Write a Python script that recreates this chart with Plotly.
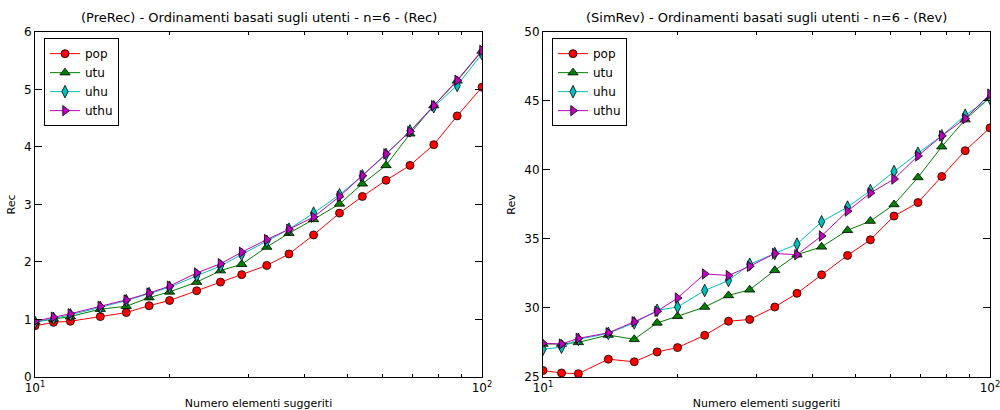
import plotly.graph_objects as go

# Number of suggested items (log scale on x)
n_items = [10, 11, 12, 14, 16, 18, 20, 23, 26, 29, 33, 37, 42, 48, 54, 61, 69, 78, 88, 100]

# (PreRec) - Rec
rec_pop = [0.89, 0.95, 0.97, 1.05, 1.12, 1.24, 1.33, 1.50, 1.65, 1.78, 1.94, 2.14, 2.47, 2.85, 3.14, 3.42, 3.68, 4.04, 4.54, 5.04]
rec_utu = [0.96, 1.01, 1.05, 1.18, 1.23, 1.38, 1.48, 1.65, 1.85, 1.96, 2.26, 2.50, 2.74, 3.01, 3.36, 3.68, 4.23, 4.72, 5.15, 5.67]
rec_uhu = [0.95, 1.02, 1.08, 1.21, 1.33, 1.45, 1.56, 1.76, 1.93, 2.13, 2.36, 2.57, 2.85, 3.17, 3.50, 3.87, 4.28, 4.70, 5.07, 5.62]
rec_uthu = [0.97, 1.04, 1.10, 1.23, 1.34, 1.46, 1.58, 1.81, 1.97, 2.17, 2.39, 2.57, 2.78, 3.14, 3.50, 3.88, 4.27, 4.72, 5.16, 5.68]

# (SimRev) - Rev
rev_pop = [25.47, 25.29, 25.24, 26.29, 26.10, 26.82, 27.13, 28.02, 29.04, 29.17, 30.07, 31.06, 32.40, 33.81, 34.94, 36.66, 37.64, 39.53, 41.40, 43.05]
rev_utu = [27.39, 27.39, 27.51, 28.04, 27.73, 28.92, 29.40, 30.07, 30.91, 31.32, 32.73, 33.86, 34.43, 35.63, 36.30, 37.50, 39.46, 41.69, 43.65, 45.25]
rev_uhu = [27.01, 27.16, 27.73, 28.16, 28.92, 29.83, 30.07, 31.27, 31.99, 33.17, 33.95, 34.63, 36.25, 37.31, 38.51, 39.89, 41.21, 42.48, 43.97, 45.20]
rev_uthu = [27.44, 27.39, 27.80, 28.20, 29.00, 29.76, 30.72, 32.47, 32.35, 33.02, 33.95, 33.86, 35.22, 37.02, 38.33, 39.34, 41.02, 42.48, 43.72, 45.50]

series_names = ["pop", "utu", "uhu", "uthu"]
colors = ["#ff0000", "#008000", "#00bfbf", "#bf00bf"]
symbols = ["circle", "triangle-up", "diamond-tall", "triangle-right"]
sizes = [8, 9, 9, 9]

titles = [
    "(PreRec) - Ordinamenti basati sugli utenti - n=6 - (Rec)",
    "(SimRev) - Ordinamenti basati sugli utenti - n=6 - (Rev)",
]
y_titles = ["Rec", "Rev"]
x_title = "Numero elementi suggeriti"
x_tickvals = [10, 100]
x_ticktext = ["10<sup>1</sup>", "10<sup>2</sup>"]
x_minor = [20, 30, 40, 50, 60, 70, 80, 90]
y_ticks = [[0, 1, 2, 3, 4, 5, 6], [25, 30, 35, 40, 45, 50]]
y_ranges = [[0, 6], [25, 50]]

FONT = "DejaVu Sans"
fig = go.Figure()

panels = [
    (rec_pop, rec_utu, rec_uhu, rec_uthu),
    (rev_pop, rev_utu, rev_uhu, rev_uthu),
]
x_domains = [[0.035, 0.482], [0.543, 0.990]]
y_domain = [0.0805, 0.922]

for p, data in enumerate(panels):
    xa = "x" if p == 0 else "x2"
    ya = "y" if p == 0 else "y2"
    for i, vals in enumerate(data):
        fig.add_trace(go.Scatter(
            x=n_items, y=vals, name=series_names[i], xaxis=xa, yaxis=ya,
            mode="lines+markers",
            line=dict(color=colors[i], width=1),
            marker=dict(symbol=symbols[i], size=sizes[i], color=colors[i],
                        line=dict(color="black", width=0.8)),
            legend="legend" if p == 0 else "legend2",
        ))

axis_common = dict(
    showline=True, linecolor="black", linewidth=1, mirror="ticks",
    ticks="inside", ticklen=4, tickcolor="black", showgrid=False, zeroline=False,
    automargin=False, ticklabeloverflow="allow",
    tickfont=dict(family=FONT, size=12, color="black"),
)

for p in range(2):
    sx = "" if p == 0 else "2"
    fig.update_layout(**{
        "xaxis" + sx: dict(
            axis_common, type="log", range=[1, 2], domain=x_domains[p],
            anchor="y" + sx, tickmode="array", tickvals=x_tickvals, ticktext=x_ticktext,
            ticklen=7,
            minor=dict(tickmode="array", tickvals=x_minor, ticks="inside", ticklen=3,
                       tickcolor="black", showgrid=False),
            title=dict(text=x_title, font=dict(family=FONT, size=11, color="black"), standoff=4),
        ),
        "yaxis" + sx: dict(
            axis_common, range=y_ranges[p], domain=y_domain, anchor="x" + sx,
            tickmode="array", tickvals=y_ticks[p], ticklen=7,
            title=dict(text=y_titles[p], font=dict(family=FONT, size=11, color="black"), standoff=6),
        ),
    })

legend_style = dict(
    bordercolor="black", borderwidth=1, bgcolor="white",
    font=dict(family=FONT, size=12, color="black"),
    xanchor="left", yanchor="top", tracegroupgap=0, itemwidth=30,
)
fig.update_layout(
    legend=dict(legend_style, x=0.044, y=0.907),
    legend2=dict(legend_style, x=0.552, y=0.907),
)

for p in range(2):
    fig.add_annotation(
        text=titles[p], xref="paper", yref="paper",
        x=sum(x_domains[p]) / 2, y=0.935, xanchor="center", yanchor="bottom",
        showarrow=False, font=dict(family=FONT, size=13, color="black"),
    )

fig.update_layout(
    width=1000, height=410, autosize=False,
    margin=dict(l=0, r=0, t=0, b=0),
    paper_bgcolor="white", plot_bgcolor="white",
    showlegend=True,
)

fig.write_html("out.html")
